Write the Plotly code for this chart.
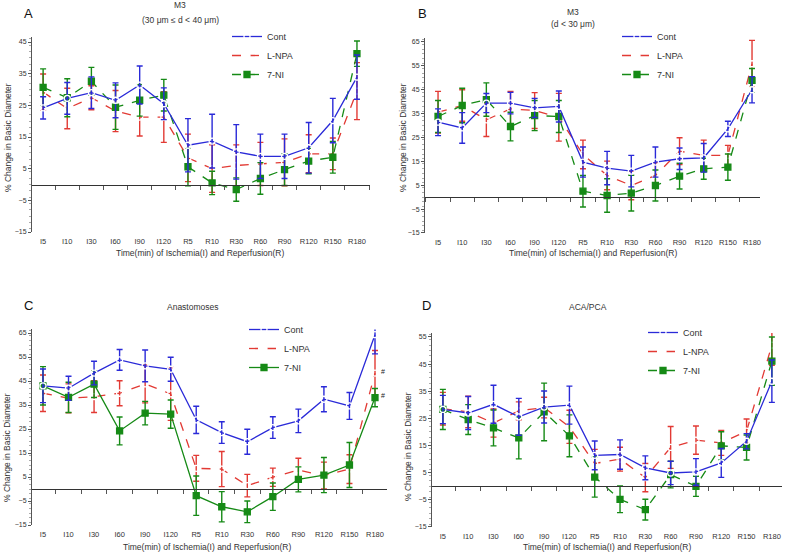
import plotly.graph_objects as go

categories = ["I5", "I10", "I30", "I60", "I90", "I120", "R5", "R10", "R30",
              "R60", "R90", "R120", "R150", "R180"]
series_names = ["Cont", "L-NPA", "7-NI"]

# Panel A: M3 (30 um <= d < 40 um)
a_cont = [24.2, 27.2, 29.0, 26.6, 31.4, 25.5, 12.4, 13.7, 10.3, 8.9, 8.9, 11.6, 20.2, 33.9]
a_cont_err = [3.5, 5.0, 5.0, 5.5, 6.0, 5.0, 8.4, 8.5, 8.6, 7.0, 7.0, 8.0, 7.0, 7.0]
a_lnpa = [29.2, 24.0, 27.4, 23.2, 21.3, 21.3, 8.4, 5.0, 6.0, 6.5, 7.0, 9.7, 9.7, 29.5]
a_lnpa_err = [5.7, 6.4, 3.8, 6.5, 6.0, 8.0, 7.5, 7.5, 6.5, 6.8, 7.4, 6.0, 5.0, 9.0]
a_7ni = [30.7, 27.4, 32.6, 24.4, 26.6, 28.2, 5.6, 0.5, -1.6, 1.9, 4.7, 7.4, 8.6, 41.3]
a_7ni_err = [5.8, 6.0, 4.4, 7.0, 5.0, 5.0, 6.0, 3.7, 3.7, 5.0, 5.0, 4.0, 5.0, 4.0]

# Panel B: M3 (d < 30 um)
b_cont = [31.4, 29.0, 39.4, 39.4, 37.4, 38.0, 14.7, 12.2, 10.9, 14.7, 16.1, 16.5, 28.6, 45.0]
b_cont_err = [5.6, 6.4, 4.0, 4.5, 4.0, 6.5, 6.3, 7.0, 6.6, 6.3, 4.5, 6.0, 3.2, 5.5]
b_lnpa = [35.6, 38.4, 32.4, 37.0, 36.3, 33.5, 17.9, 9.1, 4.9, 9.1, 19.3, 17.5, 17.5, 55.9]
b_lnpa_err = [8.7, 6.6, 7.0, 7.3, 7.5, 10.0, 6.0, 6.0, 6.0, 5.3, 5.6, 6.4, 4.2, 9.8]
b_7ni = [33.8, 38.4, 40.9, 29.6, 34.2, 33.8, 2.5, 0.7, 1.7, 4.9, 8.8, 11.9, 12.6, 48.9]
b_7ni_err = [6.7, 7.2, 7.0, 6.0, 6.3, 6.7, 6.6, 7.0, 7.5, 6.5, 5.4, 4.4, 5.5, 5.0]

# Panel C: Anastomoses
c_cont = [43.0, 42.0, 48.3, 53.8, 51.3, 49.9, 28.8, 23.5, 19.7, 25.6, 28.4, 37.4, 34.6, 64.3]
c_cont_err = [7.0, 5.0, 4.9, 4.3, 6.6, 5.0, 5.7, 4.5, 5.2, 4.5, 4.9, 5.2, 5.6, 8.0]
c_lnpa = [39.9, 37.8, 38.5, 39.9, 43.8, 39.6, 8.6, 8.3, 1.4, 4.9, 7.9, 5.6, 8.3, 48.3]
c_lnpa_err = [7.6, 6.0, 6.6, 5.2, 7.9, 11.0, 5.4, 7.3, 4.7, 3.8, 4.9, 5.6, 6.0, 9.4]
c_7ni = [43.0, 38.2, 43.7, 24.2, 31.6, 31.2, -2.8, -7.4, -9.5, -3.2, 4.0, 5.8, 10.0, 38.1]
c_7ni_err = [8.0, 6.3, 5.6, 5.8, 4.9, 5.9, 8.2, 6.3, 4.5, 5.7, 5.2, 7.3, 9.4, 3.8]

# Panel D: ACA/PCA
d_cont = [28.3, 27.0, 30.2, 25.6, 29.2, 29.9, 11.4, 11.7, 6.8, 4.9, 5.3, 8.6, 16.6, 38.7]
d_cont_err = [5.2, 6.1, 7.0, 6.8, 5.9, 7.0, 5.3, 5.4, 4.4, 4.3, 4.9, 5.3, 2.8, 7.8]
d_lnpa = [28.6, 27.4, 23.3, 27.8, 29.0, 21.9, 8.4, 10.0, 3.2, 14.3, 17.0, 16.0, 20.3, 52.0]
d_lnpa_err = [6.0, 5.8, 5.2, 3.3, 3.8, 6.1, 5.2, 4.4, 5.2, 7.7, 5.2, 4.6, 4.5, 7.4]
d_7ni = [28.3, 24.6, 21.5, 17.8, 27.4, 18.6, 3.4, -4.8, -8.6, 4.3, 0.0, 14.9, 14.3, 46.1]
d_7ni_err = [7.4, 5.5, 6.6, 7.7, 10.6, 7.7, 7.4, 4.9, 3.8, 4.9, 3.7, 5.2, 4.6, 8.9]

panel_letters = ["A", "B", "C", "D"]
title_texts = ["M3", "(30 μm ≤ d < 40 μm)", "M3", "(d < 30 μm)", "Anastomoses", "ACA/PCA"]
y_title = "% Change in Basic Diameter"
x_title = "Time(min) of Ischemia(I) and Reperfusion(R)"

W, H = 787, 557
colors = ["#2a2ad8", "#e23a34", "#168a16"]

# layout boxes in pixels
boxes = [
    dict(x0=32, x1=370, xr=[-0.46, 13.54], ylo=-15, pylo=232, yhi=45, pyhi=42, ytop=46.5),
    dict(x0=425, x1=760, xr=[-0.54, 13.33], ylo=-15, pylo=233, yhi=65, pyhi=42, ytop=66.5),
    dict(x0=32, x1=387, xr=[-0.43, 13.47], ylo=-15, pylo=525, yhi=65, pyhi=333, ytop=66.5),
    dict(x0=432, x1=782, xr=[-0.43, 13.4], ylo=-15, pylo=527, yhi=55, pyhi=337, ytop=56.5),
]
panel_data = [
    [(a_cont, a_cont_err), (a_lnpa, a_lnpa_err), (a_7ni, a_7ni_err)],
    [(b_cont, b_cont_err), (b_lnpa, b_lnpa_err), (b_7ni, b_7ni_err)],
    [(c_cont, c_cont_err), (c_lnpa, c_lnpa_err), (c_7ni, c_7ni_err)],
    [(d_cont, d_cont_err), (d_lnpa, d_lnpa_err), (d_7ni, d_7ni_err)],
]
dashes = [["solid", "dash", "dash"], ["solid", "dash", "dash"],
          ["solid", "dash", "solid"], ["solid", "dash", "dash"]]
legend_pos = [(227, 22), (617, 22), (244, 315), (643, 318)]
letter_pos = [(28, 13), (422, 13), (28, 305), (427, 305)]
title_pos = [(180, 5), (180, 20), (573, 12), (573, 24), (193, 307), (588, 307)]
ytitle_pos = [(8, 138), (403, 138), (7, 448), (408, 447)]
xtitle_pos = [(200, 253), (593, 253), (207, 547), (607, 547)]

fig = go.Figure()
layout = dict(width=W, height=H, margin=dict(l=0, r=0, t=0, b=0, autoexpand=False),
              paper_bgcolor="white", plot_bgcolor="white",
              font=dict(family="Liberation Sans, Arial, sans-serif", color="#222"),
              annotations=[])

n = len(categories)
boundaries = [i + 0.5 for i in range(-1, n)]

for p in range(4):
    b = boxes[p]
    pxper = (b["pylo"] - b["pyhi"]) / (b["yhi"] - b["ylo"])
    ybot_px = b["pylo"]
    ytop_px = b["pylo"] - (b["ytop"] - b["ylo"]) * pxper
    ydom = [1 - ybot_px / H, 1 - ytop_px / H]
    xdom = [b["x0"] / W, b["x1"] / W]
    zero_px = b["pylo"] - (0 - b["ylo"]) * pxper
    zero_frac = 1 - zero_px / H

    k = p + 1
    xs = "" if k == 1 else str(k)
    ov = str(k + 4)
    lg = "legend" if k == 1 else "legend" + str(k)

    for s in range(3):
        vals, errs = panel_data[p][s]
        sym = "square" if s == 2 else "circle-open"
        # the Cont series is drawn on the zero-line axis so that axis is rendered
        xa = "x" + ov if s == 0 else "x" + xs
        fig.add_trace(go.Scatter(
            x=list(range(n)), y=vals, name=series_names[s],
            xaxis=xa, yaxis="y" + xs, legend=lg, legendrank=s + 1,
            mode="lines+markers", cliponaxis=False,
            line=dict(color=colors[s], width=1.3, dash=dashes[p][s]),
            marker=dict(symbol=sym, size=6,
                        color=colors[s] if s == 2 else "white",
                        line=dict(color=colors[s], width=1.3)),
            error_y=dict(type="data", array=errs, visible=True,
                         color=colors[s], thickness=1.4, width=3),
        ))

    layout["xaxis" + xs] = dict(
        domain=xdom, range=b["xr"], anchor="y" + xs,
        tickmode="array", tickvals=list(range(n)), ticktext=categories,
        showline=False, ticks="", showgrid=False, zeroline=False,
        tickfont=dict(size=7.5, color="#333"), ticklabelstandoff=3)
    layout["xaxis" + ov] = dict(
        overlaying="x" + xs, anchor="free", position=zero_frac,
        range=b["xr"], side="bottom",
        tickmode="array", tickvals=boundaries, showticklabels=False,
        showline=True, linecolor="#333", linewidth=1.3,
        ticks="outside", ticklen=4, tickcolor="#555", tickwidth=1,
        showgrid=False, zeroline=False)
    layout["yaxis" + xs] = dict(
        domain=ydom, range=[b["ylo"], b["ytop"]], anchor="x" + xs,
        tick0=-15, dtick=10, showline=True, linecolor="#555", linewidth=1,
        ticks="outside", ticklen=3, tickcolor="#555",
        showgrid=False, zeroline=False,
        minor=dict(dtick=2, ticks="outside", ticklen=2, tickcolor="#aaa"),
        tickfont=dict(size=7, color="#333"))
    lx, ly = legend_pos[p]
    layout[lg] = dict(x=lx / W, y=1 - ly / H, xanchor="left", yanchor="top",
                      bgcolor="rgba(0,0,0,0)", font=dict(size=9, color="#333"),
                      itemwidth=30, tracegroupgap=0, traceorder="normal")

    ann = layout["annotations"]
    ax_, ay_ = letter_pos[p]
    ann.append(dict(text=panel_letters[p], x=ax_ / W, y=1 - ay_ / H, xref="paper", yref="paper",
                    showarrow=False, font=dict(size=13, color="#111"), xanchor="center", yanchor="middle"))
    yx, yy = ytitle_pos[p]
    ann.append(dict(text=y_title, x=yx / W, y=1 - yy / H, xref="paper", yref="paper",
                    showarrow=False, textangle=-90, font=dict(size=8.5, color="#333"),
                    xanchor="center", yanchor="middle"))
    xx, xy = xtitle_pos[p]
    ann.append(dict(text=x_title, x=xx / W, y=1 - xy / H, xref="paper", yref="paper",
                    showarrow=False, font=dict(size=8.5, color="#333"),
                    xanchor="center", yanchor="middle"))

for t, (tx, ty) in zip(title_texts, title_pos):
    layout["annotations"].append(dict(
        text=t, x=tx / W, y=1 - ty / H, xref="paper", yref="paper", showarrow=False,
        font=dict(size=8.5, color="#333"), xanchor="center", yanchor="middle"))

# '#' marks in panel C at R180
for vals in (c_lnpa, c_7ni):
    layout["annotations"].append(dict(
        text="#", x=n - 1, y=vals[-1], xref="x3", yref="y3", showarrow=False,
        xshift=8, yshift=2, font=dict(size=7, color="#222")))

fig.update_layout(**layout)
fig.write_html("out.html", config={"displayModeBar": False},
               post_script="document.body.style.margin='0';")
